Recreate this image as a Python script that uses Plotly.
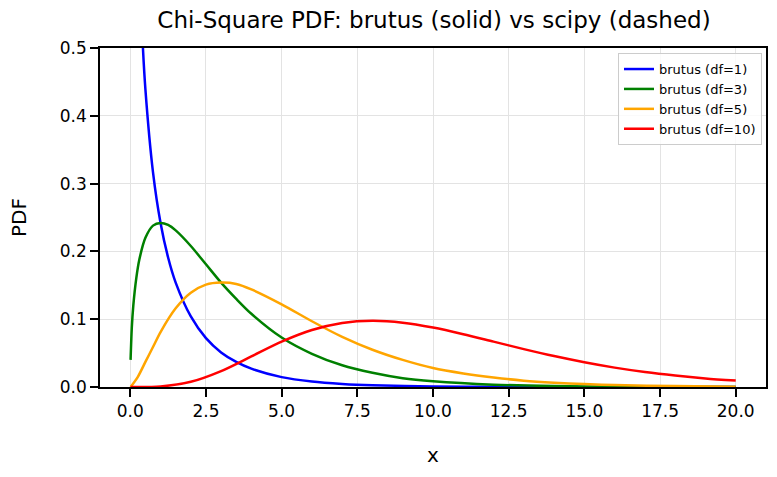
import plotly.graph_objects as go

# Values
x_df1 = [0.3, 0.4, 0.5, 0.75, 1.0, 1.25, 1.5, 2.0, 2.5, 3.0, 3.5, 4.0, 5.0, 6.0, 7.0, 8.0, 10.0, 12.0, 15.0, 20.0]
y_df1 = [0.627, 0.516, 0.439, 0.317, 0.242, 0.191, 0.154, 0.104, 0.072, 0.051, 0.037, 0.027, 0.0146, 0.0081, 0.0046, 0.0026, 0.0009, 0.0003, 0.0001, 0.0]

x_df3 = [0.01, 0.05, 0.1, 0.2, 0.3, 0.5, 0.75, 1.0, 1.25, 1.5, 2.0, 2.5, 3.0, 3.5, 4.0, 5.0, 6.0, 7.0, 8.0, 9.0, 10.0, 12.0, 14.0, 16.0, 18.0, 20.0]
y_df3 = [0.040, 0.087, 0.120, 0.161, 0.188, 0.220, 0.238, 0.242, 0.239, 0.231, 0.208, 0.181, 0.154, 0.130, 0.108, 0.073, 0.049, 0.032, 0.021, 0.013, 0.0085, 0.0035, 0.0014, 0.0005, 0.0002, 0.0001]

x_df5 = [0.01, 0.25, 0.5, 0.75, 1.0, 1.5, 2.0, 2.5, 3.0, 3.5, 4.0, 5.0, 6.0, 7.0, 8.0, 9.0, 10.0, 11.0, 12.0, 13.0, 14.0, 15.0, 16.0, 18.0, 20.0]
y_df5 = [0.0, 0.015, 0.037, 0.059, 0.081, 0.116, 0.139, 0.151, 0.154, 0.152, 0.144, 0.122, 0.097, 0.074, 0.055, 0.040, 0.028, 0.020, 0.014, 0.0094, 0.0064, 0.0043, 0.0029, 0.0013, 0.0005]

x_df10 = [0.01, 1.0, 2.0, 3.0, 4.0, 5.0, 6.0, 7.0, 8.0, 9.0, 10.0, 11.0, 12.0, 13.0, 14.0, 15.0, 16.0, 17.0, 18.0, 19.0, 20.0]
y_df10 = [0.0, 0.0008, 0.0077, 0.0235, 0.0451, 0.0668, 0.0840, 0.0944, 0.0977, 0.0949, 0.0877, 0.0779, 0.0669, 0.0559, 0.0456, 0.0365, 0.0286, 0.0221, 0.0169, 0.0127, 0.0095]

series = [
    ("brutus (df=1)", x_df1, y_df1, "blue"),
    ("brutus (df=3)", x_df3, y_df3, "green"),
    ("brutus (df=5)", x_df5, y_df5, "orange"),
    ("brutus (df=10)", x_df10, y_df10, "red"),
]

x_ticks = [0, 2.5, 5, 7.5, 10, 12.5, 15, 17.5, 20]
y_ticks = [0.0, 0.1, 0.2, 0.3, 0.4, 0.5]

fig = go.Figure()
for name, xs, ys, col in series:
    fig.add_trace(go.Scatter(x=xs, y=ys, mode="lines", name=name,
                             line=dict(color=col, width=2.5, shape="spline", smoothing=0.8)))

font = "DejaVu Sans"
fig.update_layout(
    width=777, height=477,
    margin=dict(l=100, r=9, t=48, b=90),
    paper_bgcolor="white", plot_bgcolor="white",
    font=dict(family=font, size=17, color="black"),
    title=dict(text="Chi-Square PDF: brutus (solid) vs scipy (dashed)",
               x=434 / 777, xanchor="center",
               y=1 - 20 / 477, yanchor="middle", font=dict(size=23)),
    legend=dict(x=0.994, y=0.985, xanchor="right", yanchor="top",
                bgcolor="rgba(255,255,255,0.8)", bordercolor="#cccccc", borderwidth=1,
                font=dict(size=13), tracegroupgap=0, itemwidth=30),
    showlegend=True,
)
fig.update_xaxes(range=[-1, 21], tickvals=x_ticks, ticktext=[f"{v:.1f}" for v in x_ticks],
                 showline=True, linecolor="black", linewidth=1.5, mirror=True,
                 ticks="outside", ticklen=8, tickwidth=2, tickcolor="black",
                 showgrid=True, gridcolor="#e3e3e3", gridwidth=1, zeroline=False,
                 title=dict(text="x", standoff=28))
fig.update_yaxes(range=[0, 0.5], tickvals=y_ticks, ticktext=[f"{v:.1f}" for v in y_ticks],
                 showline=True, linecolor="black", linewidth=1.5, mirror=True,
                 ticks="outside", ticklen=8, tickwidth=2, tickcolor="black",
                 showgrid=True, gridcolor="#e3e3e3", gridwidth=1, zeroline=False,
                 title=dict(text="PDF", standoff=28))

fig.write_html("out.html")
